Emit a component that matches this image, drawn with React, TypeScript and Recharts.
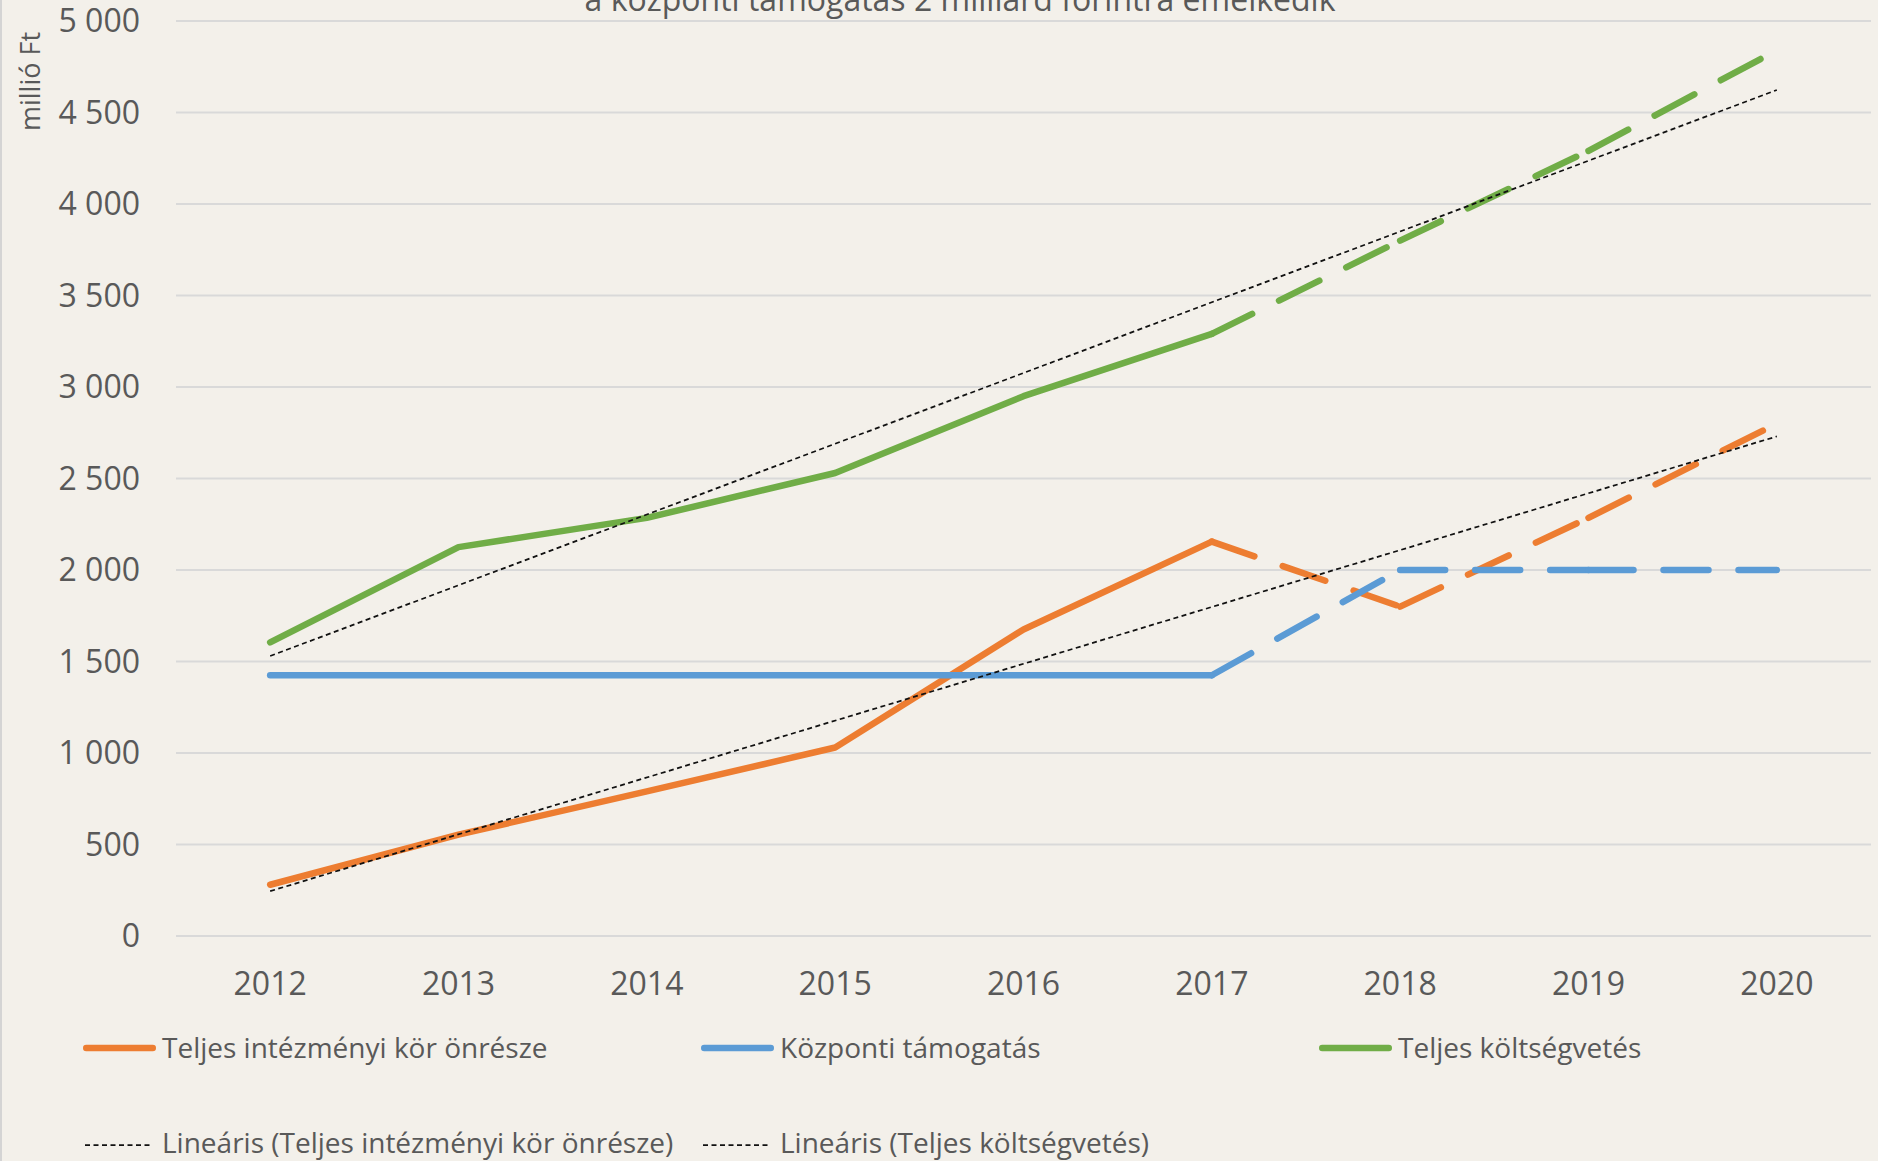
import React from "react";
import { CartesianGrid, Line, LineChart, XAxis, YAxis } from "recharts";

// values in millió Ft
const years = ["2012", "2013", "2014", "2015", "2016", "2017", "2018", "2019", "2020"];
const onresz = [280, 554, 790, 1030, 1675, 2155, 1800, 2285, 2800];
const kozponti = [1425, 1425, 1425, 1425, 1425, 1425, 2000, 2000, 2000];
const teljes = [1605, 2125, 2285, 2530, 2950, 3290, 3800, 4290, 4840];
// linear trend lines: value at 2012 and at 2020
const trendOnreszEnds = [245, 2730];
const trendTeljesEnds = [1530, 4623];
const yTicks = [0, 500, 1000, 1500, 2000, 2500, 3000, 3500, 4000, 4500, 5000];
const forecastFrom = 5; // 2017: lines go dashed from here

const W = 1878;
const H = 1161;
const FONT = "'Open Sans', sans-serif";
const TEXT = "#595959";
const BG = "#F3F0EA";
const GRID = "#D9D9D9";

const series = [
  { key: "onresz", name: "Teljes intézményi kör önrésze", color: "#ED7D31", values: onresz },
  { key: "kozponti", name: "Központi támogatás", color: "#5B9BD5", values: kozponti },
  { key: "teljes", name: "Teljes költségvetés", color: "#70AD47", values: teljes },
];

const trends = [
  { key: "trendOnresz", name: "Lineáris (Teljes intézményi kör önrésze)", ends: trendOnreszEnds },
  { key: "trendTeljes", name: "Lineáris (Teljes költségvetés)", ends: trendTeljesEnds },
];

const last = years.length - 1;
const segStarts = years.map((_, i) => i).filter((i) => i >= forecastFrom && i < last);

const rows = years.map((year, i) => {
  const row: Record<string, string | number | null> = { year };
  for (const s of series) {
    row[`${s.key}_solid`] = i <= forecastFrom ? s.values[i] : null;
    // Excel restarts the dash pattern on every segment, so one line per segment
    for (const j of segStarts) {
      row[`${s.key}_f${j}`] = i === j || i === j + 1 ? s.values[i] : null;
    }
  }
  for (const t of trends) {
    row[t.key] = i === 0 ? t.ends[0] : i === last ? t.ends[1] : null;
  }
  return row;
});

const fmt = (v: number) => String(v).replace(/\B(?=(\d{3})+(?!\d))/g, " ");

const plotLeft = 176;
const plotRight = 1871;
const halfBand = (plotRight - plotLeft) / years.length / 2;

const tickStyle = { fill: TEXT, fontSize: 32, fontFamily: FONT };
const lineDash = "45 30";
const trendDash = "5 3.5";

const legendCols = [83, 701, 1319];
const legendRows = [1058, 1153];

export default function App() {
  return (
    <div style={{ position: "absolute", left: 0, top: 0, width: W, height: H, background: BG, fontFamily: FONT, overflow: "hidden" }}>
      <div style={{ position: "absolute", left: 0, top: 0, width: 2, height: H, background: "#D4D4D4" }} />
      <LineChart width={W} height={H} data={rows} margin={{ top: 21, right: 7, bottom: 0, left: 0 }}>
        <CartesianGrid vertical={false} stroke={GRID} strokeWidth={2} />
        <XAxis
          dataKey="year"
          height={225}
          interval={0}
          padding={{ left: halfBand, right: halfBand }}
          axisLine={{ stroke: GRID, strokeWidth: 2 }}
          tickLine={false}
          tickSize={0}
          tickMargin={36}
          tick={tickStyle}
        />
        <YAxis
          width={176}
          domain={[0, 5000]}
          ticks={yTicks}
          interval={0}
          axisLine={false}
          tickLine={false}
          tickSize={0}
          tickMargin={36}
          tickFormatter={fmt}
          tick={tickStyle}
        />
        {series.map((s) => (
          <React.Fragment key={s.key}>
            <Line
              dataKey={`${s.key}_solid`}
              stroke={s.color}
              strokeWidth={6.5}
              strokeLinecap="round"
              strokeLinejoin="round"
              dot={false}
              activeDot={false}
              isAnimationActive={false}
            />
            {segStarts.map((j) => (
              <Line
                key={j}
                dataKey={`${s.key}_f${j}`}
                stroke={s.color}
                strokeWidth={6.5}
                strokeDasharray={lineDash}
                strokeLinecap="round"
                dot={false}
                activeDot={false}
                isAnimationActive={false}
              />
            ))}
          </React.Fragment>
        ))}
        {trends.map((t) => (
          <Line
            key={t.key}
            dataKey={t.key}
            connectNulls
            stroke="#111"
            strokeWidth={1.75}
            strokeDasharray={trendDash}
            dot={false}
            activeDot={false}
            isAnimationActive={false}
          />
        ))}
      </LineChart>
      <svg width={W} height={H} style={{ position: "absolute", left: 0, top: 0, pointerEvents: "none" }}>
        <text x={960} y={11} textAnchor="middle" fill={TEXT} fontSize={32} fontFamily={FONT}>
          a központi támogatás 2 milliárd forintra emelkedik
        </text>
        <text transform="translate(40 81.5) rotate(-90)" textAnchor="middle" fill={TEXT} fontSize={27} fontFamily={FONT}>
          millió Ft
        </text>
        {series.map((s, i) => (
          <g key={s.key}>
            <line x1={legendCols[i] + 3.25} x2={legendCols[i] + 69.75} y1={legendRows[0] - 10} y2={legendRows[0] - 10} stroke={s.color} strokeWidth={6.5} strokeLinecap="round" />
            <text x={legendCols[i] + 79} y={legendRows[0]} fill={TEXT} fontSize={28} fontFamily={FONT}>
              {s.name}
            </text>
          </g>
        ))}
        {trends.map((t, i) => (
          <g key={t.key}>
            <line x1={legendCols[i] + 2} x2={legendCols[i] + 70} y1={legendRows[1] - 8} y2={legendRows[1] - 8} stroke="#111" strokeWidth={1.75} strokeDasharray={trendDash} />
            <text x={legendCols[i] + 79} y={legendRows[1]} fill={TEXT} fontSize={28} fontFamily={FONT}>
              {t.name}
            </text>
          </g>
        ))}
      </svg>
    </div>
  );
}
